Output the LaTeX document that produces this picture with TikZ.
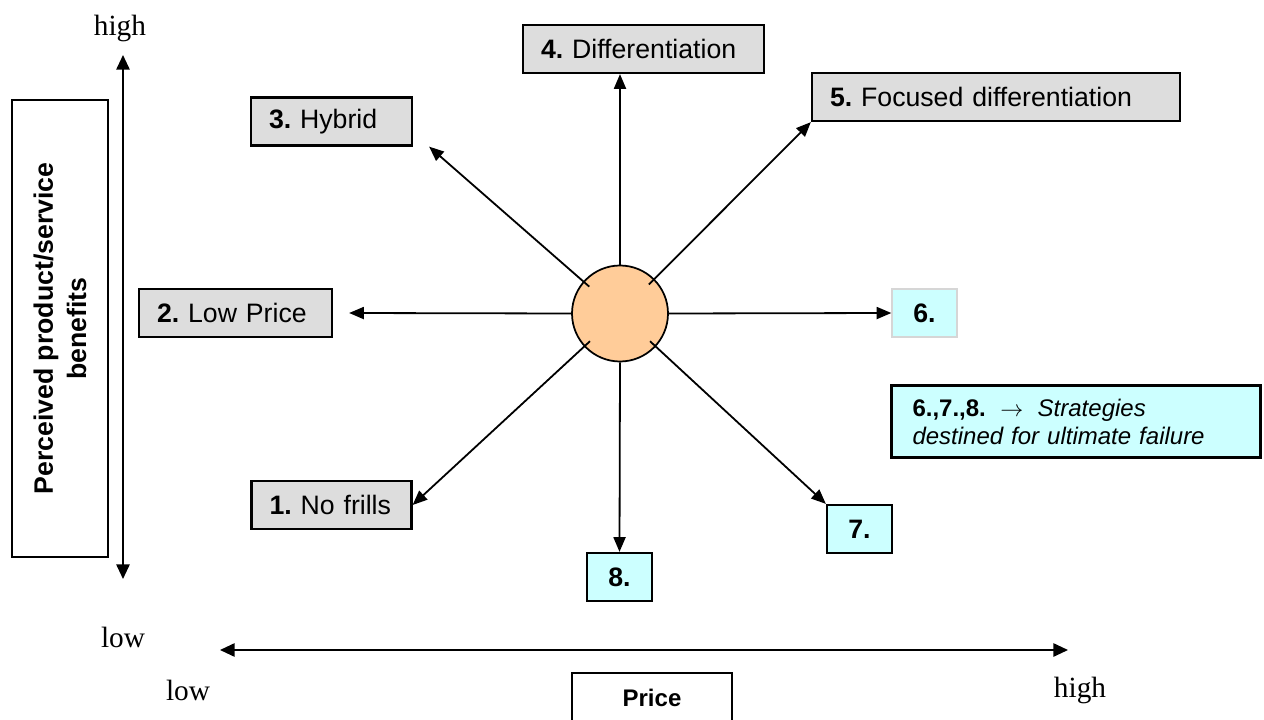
\documentclass[tikz,border=0pt]{standalone}
\usepackage{fontspec}
\setmainfont{Liberation Sans}
\newfontfamily\axisserif{Liberation Serif}
\usepackage{tikz}
\usetikzlibrary{shapes,arrows.meta,positioning}
\usepackage{xcolor}
\definecolor{stratgray}{HTML}{DDDDDD}
\definecolor{failcyan}{HTML}{CCFFFF}
\definecolor{hubpeach}{HTML}{FFCC99}
\definecolor{paleedge}{HTML}{D6D6D6}
\frenchspacing

\begin{document}
\begin{tikzpicture}[x=0.75pt,y=0.75pt,yscale=-1,xscale=1,
  stratbox/.style={draw, line width=1.7pt, fill=stratgray, minimum height=36pt, inner xsep=13.5pt, align=left, font=\fontsize{20pt}{24pt}\selectfont},
  failbox/.style={draw, line width=1.7pt, fill=failcyan, minimum width=48.75pt, minimum height=36pt, font=\fontsize{20pt}{24pt}\selectfont\bfseries},
  spoke/.style={-{Triangle[length=11pt,width=9pt]}, line width=1.35pt},
  axisline/.style={{Triangle[length=11pt,width=10pt]}-{Triangle[length=11pt,width=10pt]}, line width=1.35pt},
  axislbl/.style={font=\axisserif\fontsize{22pt}{26pt}\selectfont}]
\useasboundingbox (0,0) rectangle (1264,720);

% Axes
\coordinate (ytop) at (123,55);
\coordinate (ybot) at (123,579);
\coordinate (xleft) at (220,650);
\coordinate (xright) at (1068,650);
\draw[axisline] (ytop) -- (ybot);
\draw[axisline] (xleft) -- (xright);
\node[axislbl] (yhigh) at (120,28) {high};
\node[axislbl] (ylow) at (123,637) {low};
\node[axislbl] (xlow) at (188,690) {low};
\node[axislbl] (xhigh) at (1080,690) {high};

% Axis titles
\node[draw, line width=1.7pt, rotate=90, minimum width=342.75pt, minimum height=72pt, align=center, font=\fontsize{20pt}{25pt}\selectfont\bfseries] (benefits) at (60,328.5) {Perceived product/service\\benefits};
\node[draw, line width=1.7pt, minimum width=120pt, minimum height=37.5pt, font=\fontsize{18pt}{21pt}\selectfont\bfseries] (price) at (652,698) {Price};

% Strategy boxes
\node[stratbox, text width=153.75pt] (diff) at (643.5,49) {\textbf{4.} Differentiation};
\node[stratbox, text width=249pt] (focus) at (996,97) {\textbf{5.} Focused differentiation};
\node[stratbox, text width=93.75pt] (hybrid) at (331.5,121.5) {\textbf{3.} Hybrid};
\node[stratbox, text width=117.75pt] (lowprice) at (235.5,313) {\textbf{2.} Low Price};
\node[stratbox, text width=93pt] (nofrills) at (331.5,505) {\textbf{1.} No frills};

% Failure boxes
\node[failbox, draw=paleedge, line width=1pt] (six) at (924.5,313) {6.};
\node[failbox] (seven) at (859.5,529) {7.};
\node[failbox] (eight) at (619.5,577) {8.};
\node[draw, line width=1.7pt, fill=failcyan, text width=245.25pt, inner xsep=15.75pt, minimum height=54pt, align=left, font=\fontsize{18pt}{21pt}\selectfont] (failnote) at (1076,421.5) {\textbf{6.,7.,8.}\hspace{0.6em}$\rightarrow$\hspace{0.6em}\textit{Strategies}\\\textit{destined for ultimate failure}};

% Hub and spokes
\node[circle, draw, line width=1.3pt, fill=hubpeach, minimum size=72pt] (hub) at (620,313.5) {};
\draw[spoke] (hub.north) -- (hub.north |- diff.south);
\draw[spoke] (hub.south) -- (eight.north);
\draw[spoke] (hub.west) -- ([xshift=12pt]lowprice.east);
\draw[spoke] (hub.east) -- (six.west);
\draw[spoke, shorten <=-6pt] (hub) -- (focus.south west);
\draw[spoke, shorten <=-6pt] (hub) -- ([xshift=12pt]hybrid.south east);
\draw[spoke, shorten <=-6pt] (hub) -- (nofrills.east);
\draw[spoke, shorten <=-6pt] (hub) -- (seven.north west);

\end{tikzpicture}
\end{document}
